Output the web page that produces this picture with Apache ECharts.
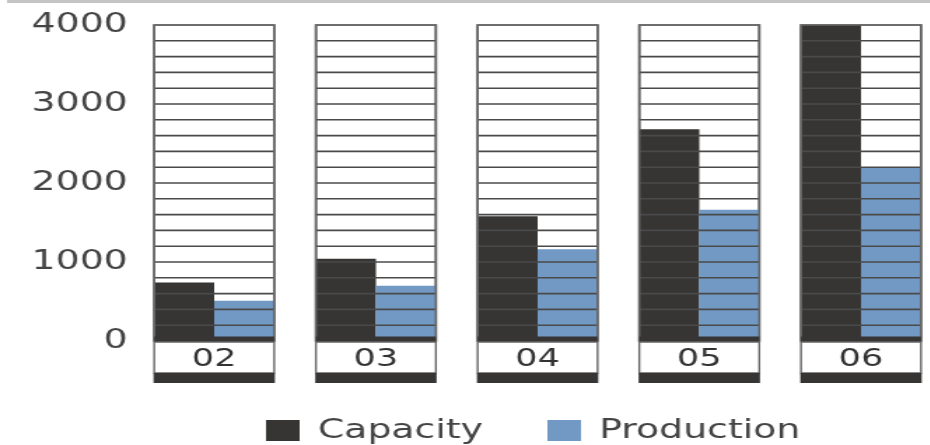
<!DOCTYPE html>
<html>
<head>
<meta charset="utf-8">
<script src="https://cdn.jsdelivr.net/npm/echarts@6/dist/echarts.min.js"></script>
<style>
  html, body { margin: 0; padding: 0; background: #fff; overflow: hidden; }
  /* the source artwork is stretched sideways, so the whole chart is drawn narrow and scaled */
  #chart { width: 664px; height: 445px; transform: scaleX(1.4); transform-origin: 0 0; }
</style>
</head>
<body>
<div id="chart"></div>
<script>
const years = ['02', '03', '04', '05', '06']
const capacity = [740, 1040, 1580, 2680, 4000]
const production = [510, 700, 1160, 1660, 2200]
const yTicks = [0, 1000, 2000, 3000, 4000]

const yMax = 4000
const stripeStep = 200
const dark = '#363534'
const blue = '#7199c4'
const panelRatio = 0.742

const chart = echarts.init(document.getElementById('chart'))

function panelBox(params, api) {
  const idx = api.value(0)
  const top = api.coord([idx, api.value(1)])
  const zero = api.coord([idx, 0])
  const w = api.size([1, 0])[0] * panelRatio
  return { x: top[0] - w / 2, w: w, top: top[1], zero: zero[1] }
}

// white striped panel behind the bars
function renderPanel(params, api) {
  const p = panelBox(params, api)
  return {
    type: 'rect',
    shape: { x: p.x, y: p.top, width: p.w, height: p.zero - p.top },
    style: { fill: '#fff', stroke: '#666', lineWidth: 1.6 }
  }
}

// stripes drawn over the bars, plus the label box under each panel
function renderOverlay(params, api) {
  const p = panelBox(params, api)
  const idx = api.value(0)
  const children = []
  for (let v = stripeStep; v < yMax; v += stripeStep) {
    const y = api.coord([idx, v])[1]
    children.push({
      type: 'line',
      shape: { x1: p.x, y1: y, x2: p.x + p.w, y2: y },
      style: { stroke: '#4a4a4a', lineWidth: 1.6 }
    })
  }
  children.push({
    type: 'rect',
    shape: { x: p.x, y: p.top, width: p.w, height: p.zero - p.top },
    style: { fill: null, stroke: '#666', lineWidth: 1.6 }
  })
  children.push({
    type: 'rect',
    shape: { x: p.x, y: p.zero - 4.5, width: p.w, height: 5.5 },
    style: { fill: dark }
  })
  children.push({
    type: 'rect',
    shape: { x: p.x, y: p.zero + 1, width: p.w, height: 31 },
    style: { fill: '#fff', stroke: '#666', lineWidth: 1.4 }
  })
  children.push({
    type: 'rect',
    shape: { x: p.x - 0.5, y: p.zero + 32, width: p.w + 1, height: 10 },
    style: { fill: dark }
  })
  return { type: 'group', children: children }
}

const panelData = years.map((y, i) => [i, yMax])

const option = {
  animation: false,
  graphic: [{
    type: 'line',
    shape: { x1: 5, y1: 1.5, x2: 664, y2: 1.5 },
    style: { stroke: '#c4c4c4', lineWidth: 3 }
  }],
  grid: { left: 95.25, width: 577.5, top: 25, bottom: 104, outerBoundsMode: 'none' },
  legend: {
    left: 185,
    top: 412,
    itemWidth: 24,
    itemHeight: 21,
    itemGap: 46,
    icon: 'rect',
    data: ['Capacity', 'Production'],
    textStyle: { fontFamily: 'DejaVu Sans', fontSize: 27, color: '#444', padding: [0, 0, 0, 8] }
  },
  xAxis: {
    type: 'category',
    data: years,
    z: 10,
    axisLine: { show: false },
    axisTick: { show: false },
    axisLabel: {
      fontFamily: 'DejaVu Sans',
      fontSize: 25,
      color: '#333',
      margin: 18,
      verticalAlign: 'middle'
    }
  },
  yAxis: {
    type: 'value',
    min: yTicks[0],
    max: yTicks[yTicks.length - 1],
    interval: 1000,
    axisLine: { show: false },
    axisTick: { show: false },
    splitLine: { show: false },
    axisLabel: {
      fontFamily: 'DejaVu Sans',
      fontSize: 27,
      color: '#444',
      margin: 4,
      verticalAlign: 'middle',
      padding: [0, 0, 9, 0],
      formatter: (v) => String(v)
    }
  },
  series: [
    {
      type: 'custom',
      z: 1,
      silent: true,
      renderItem: renderPanel,
      data: panelData
    },
    {
      name: 'Capacity',
      type: 'bar',
      z: 2,
      barGap: '0%',
      barCategoryGap: '25.8%',
      itemStyle: { color: dark },
      data: capacity
    },
    {
      name: 'Production',
      type: 'bar',
      z: 2,
      itemStyle: { color: blue },
      data: production
    },
    {
      type: 'custom',
      z: 3,
      silent: true,
      renderItem: renderOverlay,
      data: panelData
    }
  ]
}

chart.setOption(option)
</script>
</body>
</html>
